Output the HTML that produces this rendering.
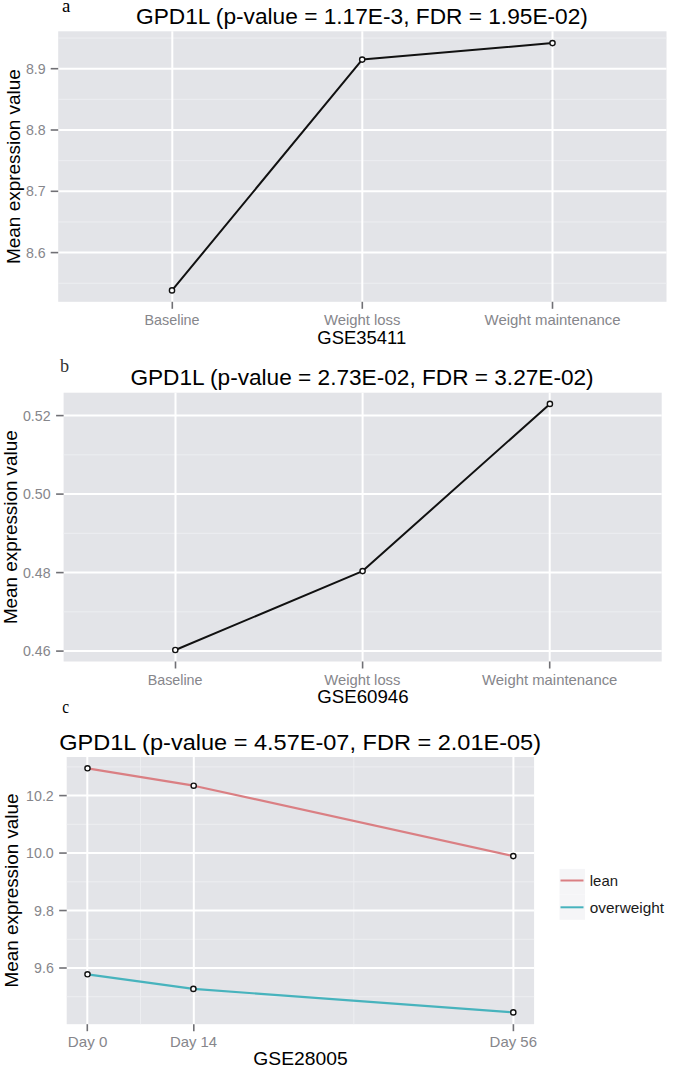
<!DOCTYPE html>
<html><head><meta charset="utf-8"><style>
html,body{margin:0;padding:0;background:#fff;}
svg{display:block;}

</style></head><body>
<svg width="675" height="1071" viewBox="0 0 675 1071">
<rect width="675" height="1071" fill="#fff"/>
<rect x="58.2" y="31.3" width="608.30" height="270.50" fill="#E3E4E8"/>
<line x1="58.2" x2="666.5" y1="38.05" y2="38.05" stroke="#EDEEF1" stroke-width="1"/>
<line x1="58.2" x2="666.5" y1="99.35" y2="99.35" stroke="#EDEEF1" stroke-width="1"/>
<line x1="58.2" x2="666.5" y1="160.65" y2="160.65" stroke="#EDEEF1" stroke-width="1"/>
<line x1="58.2" x2="666.5" y1="221.95" y2="221.95" stroke="#EDEEF1" stroke-width="1"/>
<line x1="58.2" x2="666.5" y1="283.25" y2="283.25" stroke="#EDEEF1" stroke-width="1"/>
<line x1="58.2" x2="666.5" y1="68.7" y2="68.7" stroke="#FFFFFF" stroke-width="2"/>
<line x1="58.2" x2="666.5" y1="130.0" y2="130.0" stroke="#FFFFFF" stroke-width="2"/>
<line x1="58.2" x2="666.5" y1="191.3" y2="191.3" stroke="#FFFFFF" stroke-width="2"/>
<line x1="58.2" x2="666.5" y1="252.6" y2="252.6" stroke="#FFFFFF" stroke-width="2"/>
<line y1="31.3" y2="301.8" x1="172.3" x2="172.3" stroke="#FFFFFF" stroke-width="2"/>
<line y1="31.3" y2="301.8" x1="362.3" x2="362.3" stroke="#FFFFFF" stroke-width="2"/>
<line y1="31.3" y2="301.8" x1="552.5" x2="552.5" stroke="#FFFFFF" stroke-width="2"/>
<line x1="50.7" x2="58.2" y1="68.7" y2="68.7" stroke="#707075" stroke-width="1.6"/>
<line x1="50.7" x2="58.2" y1="130.0" y2="130.0" stroke="#707075" stroke-width="1.6"/>
<line x1="50.7" x2="58.2" y1="191.3" y2="191.3" stroke="#707075" stroke-width="1.6"/>
<line x1="50.7" x2="58.2" y1="252.6" y2="252.6" stroke="#707075" stroke-width="1.6"/>
<line y1="301.8" y2="308.8" x1="172.3" x2="172.3" stroke="#707075" stroke-width="1.6"/>
<line y1="301.8" y2="308.8" x1="362.3" x2="362.3" stroke="#707075" stroke-width="1.6"/>
<line y1="301.8" y2="308.8" x1="552.5" x2="552.5" stroke="#707075" stroke-width="1.6"/>
<polyline points="172.0,290.4 362.2,59.6 552.5,43.1" fill="none" stroke="#111" stroke-width="2" stroke-linejoin="round" stroke-linecap="butt"/>
<circle cx="172.0" cy="290.4" r="2.6" fill="#fff" stroke="#111" stroke-width="1.4"/>
<circle cx="362.2" cy="59.6" r="2.6" fill="#fff" stroke="#111" stroke-width="1.4"/>
<circle cx="552.5" cy="43.1" r="2.6" fill="#fff" stroke="#111" stroke-width="1.4"/>
<rect x="63.6" y="392.7" width="598.10" height="268.80" fill="#E3E4E8"/>
<line x1="63.6" x2="661.7" y1="454.85" y2="454.85" stroke="#EDEEF1" stroke-width="1"/>
<line x1="63.6" x2="661.7" y1="533.35" y2="533.35" stroke="#EDEEF1" stroke-width="1"/>
<line x1="63.6" x2="661.7" y1="611.85" y2="611.85" stroke="#EDEEF1" stroke-width="1"/>
<line x1="63.6" x2="661.7" y1="415.6" y2="415.6" stroke="#FFFFFF" stroke-width="2"/>
<line x1="63.6" x2="661.7" y1="494.1" y2="494.1" stroke="#FFFFFF" stroke-width="2"/>
<line x1="63.6" x2="661.7" y1="572.6" y2="572.6" stroke="#FFFFFF" stroke-width="2"/>
<line x1="63.6" x2="661.7" y1="651.1" y2="651.1" stroke="#FFFFFF" stroke-width="2"/>
<line y1="392.7" y2="661.5" x1="175.5" x2="175.5" stroke="#FFFFFF" stroke-width="2"/>
<line y1="392.7" y2="661.5" x1="362.6" x2="362.6" stroke="#FFFFFF" stroke-width="2"/>
<line y1="392.7" y2="661.5" x1="549.7" x2="549.7" stroke="#FFFFFF" stroke-width="2"/>
<line x1="56.1" x2="63.6" y1="415.6" y2="415.6" stroke="#707075" stroke-width="1.6"/>
<line x1="56.1" x2="63.6" y1="494.1" y2="494.1" stroke="#707075" stroke-width="1.6"/>
<line x1="56.1" x2="63.6" y1="572.6" y2="572.6" stroke="#707075" stroke-width="1.6"/>
<line x1="56.1" x2="63.6" y1="651.1" y2="651.1" stroke="#707075" stroke-width="1.6"/>
<line y1="661.5" y2="668.5" x1="175.5" x2="175.5" stroke="#707075" stroke-width="1.6"/>
<line y1="661.5" y2="668.5" x1="362.6" x2="362.6" stroke="#707075" stroke-width="1.6"/>
<line y1="661.5" y2="668.5" x1="549.7" x2="549.7" stroke="#707075" stroke-width="1.6"/>
<polyline points="175.3,650.0 362.6,571.1 549.9,403.9" fill="none" stroke="#111" stroke-width="2" stroke-linejoin="round" stroke-linecap="butt"/>
<circle cx="175.3" cy="650.0" r="2.6" fill="#fff" stroke="#111" stroke-width="1.4"/>
<circle cx="362.6" cy="571.1" r="2.6" fill="#fff" stroke="#111" stroke-width="1.4"/>
<circle cx="549.9" cy="403.9" r="2.6" fill="#fff" stroke="#111" stroke-width="1.4"/>
<rect x="66.7" y="757.0" width="467.40" height="267.20" fill="#E3E4E8"/>
<line x1="66.7" x2="534.1" y1="766.9" y2="766.9" stroke="#EDEEF1" stroke-width="1"/>
<line x1="66.7" x2="534.1" y1="824.3" y2="824.3" stroke="#EDEEF1" stroke-width="1"/>
<line x1="66.7" x2="534.1" y1="881.8" y2="881.8" stroke="#EDEEF1" stroke-width="1"/>
<line x1="66.7" x2="534.1" y1="939.3" y2="939.3" stroke="#EDEEF1" stroke-width="1"/>
<line x1="66.7" x2="534.1" y1="996.7" y2="996.7" stroke="#EDEEF1" stroke-width="1"/>
<line y1="757.0" y2="1024.2" x1="140.5" x2="140.5" stroke="#EDEEF1" stroke-width="1"/>
<line y1="757.0" y2="1024.2" x1="353.8" x2="353.8" stroke="#EDEEF1" stroke-width="1"/>
<line x1="66.7" x2="534.1" y1="795.6" y2="795.6" stroke="#FFFFFF" stroke-width="2"/>
<line x1="66.7" x2="534.1" y1="853.07" y2="853.07" stroke="#FFFFFF" stroke-width="2"/>
<line x1="66.7" x2="534.1" y1="910.53" y2="910.53" stroke="#FFFFFF" stroke-width="2"/>
<line x1="66.7" x2="534.1" y1="968.0" y2="968.0" stroke="#FFFFFF" stroke-width="2"/>
<line y1="757.0" y2="1024.2" x1="87.3" x2="87.3" stroke="#FFFFFF" stroke-width="2"/>
<line y1="757.0" y2="1024.2" x1="193.8" x2="193.8" stroke="#FFFFFF" stroke-width="2"/>
<line y1="757.0" y2="1024.2" x1="513.4" x2="513.4" stroke="#FFFFFF" stroke-width="2"/>
<line x1="59.2" x2="66.7" y1="795.6" y2="795.6" stroke="#707075" stroke-width="1.6"/>
<line x1="59.2" x2="66.7" y1="853.07" y2="853.07" stroke="#707075" stroke-width="1.6"/>
<line x1="59.2" x2="66.7" y1="910.53" y2="910.53" stroke="#707075" stroke-width="1.6"/>
<line x1="59.2" x2="66.7" y1="968.0" y2="968.0" stroke="#707075" stroke-width="1.6"/>
<line y1="1024.2" y2="1031.2" x1="87.3" x2="87.3" stroke="#707075" stroke-width="1.6"/>
<line y1="1024.2" y2="1031.2" x1="193.8" x2="193.8" stroke="#707075" stroke-width="1.6"/>
<line y1="1024.2" y2="1031.2" x1="513.4" x2="513.4" stroke="#707075" stroke-width="1.6"/>
<polyline points="87.5,768.3 193.7,785.7 513.3,856.1" fill="none" stroke="#DA7F83" stroke-width="2.2" stroke-linejoin="round" stroke-linecap="butt"/>
<polyline points="87.5,974.3 193.4,988.9 513.3,1012.4" fill="none" stroke="#47B3BD" stroke-width="2.2" stroke-linejoin="round" stroke-linecap="butt"/>
<circle cx="87.5" cy="768.3" r="2.6" fill="#fff" stroke="#111" stroke-width="1.4"/>
<circle cx="193.7" cy="785.7" r="2.6" fill="#fff" stroke="#111" stroke-width="1.4"/>
<circle cx="513.3" cy="856.1" r="2.6" fill="#fff" stroke="#111" stroke-width="1.4"/>
<circle cx="87.5" cy="974.3" r="2.6" fill="#fff" stroke="#111" stroke-width="1.4"/>
<circle cx="193.4" cy="988.9" r="2.6" fill="#fff" stroke="#111" stroke-width="1.4"/>
<circle cx="513.3" cy="1012.4" r="2.6" fill="#fff" stroke="#111" stroke-width="1.4"/>
<rect x="559.5" y="868.9" width="25.5" height="25.45" fill="#F5F5F7"/>
<rect x="559.5" y="894.35" width="25.5" height="25.45" fill="#F5F5F7"/>
<line x1="560.5" x2="583.5" y1="880.5" y2="880.5" stroke="#DA7F83" stroke-width="2"/>
<line x1="560.5" x2="583.5" y1="907.3" y2="907.3" stroke="#47B3BD" stroke-width="2"/>
<text x="589.80" y="885.80" font-size="14.6" textLength="28.21" lengthAdjust="spacingAndGlyphs" fill="#1a1a1a" style='font-family:"Liberation Sans", sans-serif'>lean</text>
<text x="589.80" y="912.90" font-size="14.6" textLength="74.23" lengthAdjust="spacingAndGlyphs" fill="#1a1a1a" style='font-family:"Liberation Sans", sans-serif'>overweight</text>
<text x="62.10" y="12.00" font-size="18" textLength="8.37" lengthAdjust="spacingAndGlyphs" fill="#000" style='font-family:"Liberation Serif", serif'>a</text>
<text x="59.90" y="371.50" font-size="18" textLength="9.10" lengthAdjust="spacingAndGlyphs" fill="#333" style='font-family:"Liberation Serif", serif'>b</text>
<text x="62.20" y="712.60" font-size="18" textLength="6.86" lengthAdjust="spacingAndGlyphs" fill="#000" style='font-family:"Liberation Serif", serif'>c</text>
<text x="136.00" y="24.20" font-size="22.4" textLength="451.91" lengthAdjust="spacingAndGlyphs" fill="#000" style='font-family:"Liberation Sans", sans-serif'>GPD1L (p-value = 1.17E-3, FDR = 1.95E-02)</text>
<text x="130.40" y="385.30" font-size="22.4" textLength="463.25" lengthAdjust="spacingAndGlyphs" fill="#000" style='font-family:"Liberation Sans", sans-serif'>GPD1L (p-value = 2.73E-02, FDR = 3.27E-02)</text>
<text x="59.30" y="749.90" font-size="22.4" textLength="481.75" lengthAdjust="spacingAndGlyphs" fill="#000" style='font-family:"Liberation Sans", sans-serif'>GPD1L (p-value = 4.57E-07, FDR = 2.01E-05)</text>
<text x="317.30" y="343.70" font-size="17.8" textLength="88.87" lengthAdjust="spacingAndGlyphs" fill="#000" style='font-family:"Liberation Sans", sans-serif'>GSE35411</text>
<text x="317.30" y="703.40" font-size="17.8" textLength="91.34" lengthAdjust="spacingAndGlyphs" fill="#000" style='font-family:"Liberation Sans", sans-serif'>GSE60946</text>
<text x="253.30" y="1065.40" font-size="17.8" textLength="94.35" lengthAdjust="spacingAndGlyphs" fill="#000" style='font-family:"Liberation Sans", sans-serif'>GSE28005</text>
<text transform="rotate(-90)" x="-264.00" y="20.00" font-size="18.2" textLength="194.86" lengthAdjust="spacingAndGlyphs" fill="#000" font-family='"Liberation Sans", sans-serif'>Mean expression value</text>
<text transform="rotate(-90)" x="-624.10" y="17.00" font-size="18.2" textLength="193.76" lengthAdjust="spacingAndGlyphs" fill="#000" font-family='"Liberation Sans", sans-serif'>Mean expression value</text>
<text transform="rotate(-90)" x="-987.40" y="18.20" font-size="18.2" textLength="193.86" lengthAdjust="spacingAndGlyphs" fill="#000" font-family='"Liberation Sans", sans-serif'>Mean expression value</text>
<text x="25.96" y="73.70" font-size="14.2" textLength="19.74" lengthAdjust="spacingAndGlyphs" fill="#86868B" style='font-family:"Liberation Sans", sans-serif'>8.9</text>
<text x="25.96" y="135.00" font-size="14.2" textLength="19.74" lengthAdjust="spacingAndGlyphs" fill="#86868B" style='font-family:"Liberation Sans", sans-serif'>8.8</text>
<text x="25.96" y="196.30" font-size="14.2" textLength="19.74" lengthAdjust="spacingAndGlyphs" fill="#86868B" style='font-family:"Liberation Sans", sans-serif'>8.7</text>
<text x="25.96" y="257.60" font-size="14.2" textLength="19.74" lengthAdjust="spacingAndGlyphs" fill="#86868B" style='font-family:"Liberation Sans", sans-serif'>8.6</text>
<text x="22.91" y="420.60" font-size="14.2" textLength="27.63" lengthAdjust="spacingAndGlyphs" fill="#86868B" style='font-family:"Liberation Sans", sans-serif'>0.52</text>
<text x="22.91" y="499.10" font-size="14.2" textLength="27.63" lengthAdjust="spacingAndGlyphs" fill="#86868B" style='font-family:"Liberation Sans", sans-serif'>0.50</text>
<text x="22.91" y="577.60" font-size="14.2" textLength="27.63" lengthAdjust="spacingAndGlyphs" fill="#86868B" style='font-family:"Liberation Sans", sans-serif'>0.48</text>
<text x="22.91" y="656.10" font-size="14.2" textLength="27.63" lengthAdjust="spacingAndGlyphs" fill="#86868B" style='font-family:"Liberation Sans", sans-serif'>0.46</text>
<text x="26.11" y="800.60" font-size="14.2" textLength="27.63" lengthAdjust="spacingAndGlyphs" fill="#86868B" style='font-family:"Liberation Sans", sans-serif'>10.2</text>
<text x="26.11" y="858.07" font-size="14.2" textLength="27.63" lengthAdjust="spacingAndGlyphs" fill="#86868B" style='font-family:"Liberation Sans", sans-serif'>10.0</text>
<text x="34.06" y="915.53" font-size="14.2" textLength="19.74" lengthAdjust="spacingAndGlyphs" fill="#86868B" style='font-family:"Liberation Sans", sans-serif'>9.8</text>
<text x="34.06" y="973.00" font-size="14.2" textLength="19.74" lengthAdjust="spacingAndGlyphs" fill="#86868B" style='font-family:"Liberation Sans", sans-serif'>9.6</text>
<text x="144.50" y="324.60" font-size="14.6" textLength="55.04" lengthAdjust="spacingAndGlyphs" fill="#86868B" style='font-family:"Liberation Sans", sans-serif'>Baseline</text>
<text x="323.90" y="324.60" font-size="14.6" textLength="76.50" lengthAdjust="spacingAndGlyphs" fill="#86868B" style='font-family:"Liberation Sans", sans-serif'>Weight loss</text>
<text x="484.60" y="324.60" font-size="14.6" textLength="135.96" lengthAdjust="spacingAndGlyphs" fill="#86868B" style='font-family:"Liberation Sans", sans-serif'>Weight maintenance</text>
<text x="147.70" y="684.80" font-size="14.6" textLength="54.84" lengthAdjust="spacingAndGlyphs" fill="#86868B" style='font-family:"Liberation Sans", sans-serif'>Baseline</text>
<text x="324.30" y="684.80" font-size="14.6" textLength="76.10" lengthAdjust="spacingAndGlyphs" fill="#86868B" style='font-family:"Liberation Sans", sans-serif'>Weight loss</text>
<text x="482.10" y="684.80" font-size="14.6" textLength="135.26" lengthAdjust="spacingAndGlyphs" fill="#86868B" style='font-family:"Liberation Sans", sans-serif'>Weight maintenance</text>
<text x="67.80" y="1047.20" font-size="14.6" textLength="39.53" lengthAdjust="spacingAndGlyphs" fill="#86868B" style='font-family:"Liberation Sans", sans-serif'>Day 0</text>
<text x="169.90" y="1047.20" font-size="14.6" textLength="47.17" lengthAdjust="spacingAndGlyphs" fill="#86868B" style='font-family:"Liberation Sans", sans-serif'>Day 14</text>
<text x="489.60" y="1047.00" font-size="14.6" textLength="47.37" lengthAdjust="spacingAndGlyphs" fill="#86868B" style='font-family:"Liberation Sans", sans-serif'>Day 56</text>
</svg></body></html>
